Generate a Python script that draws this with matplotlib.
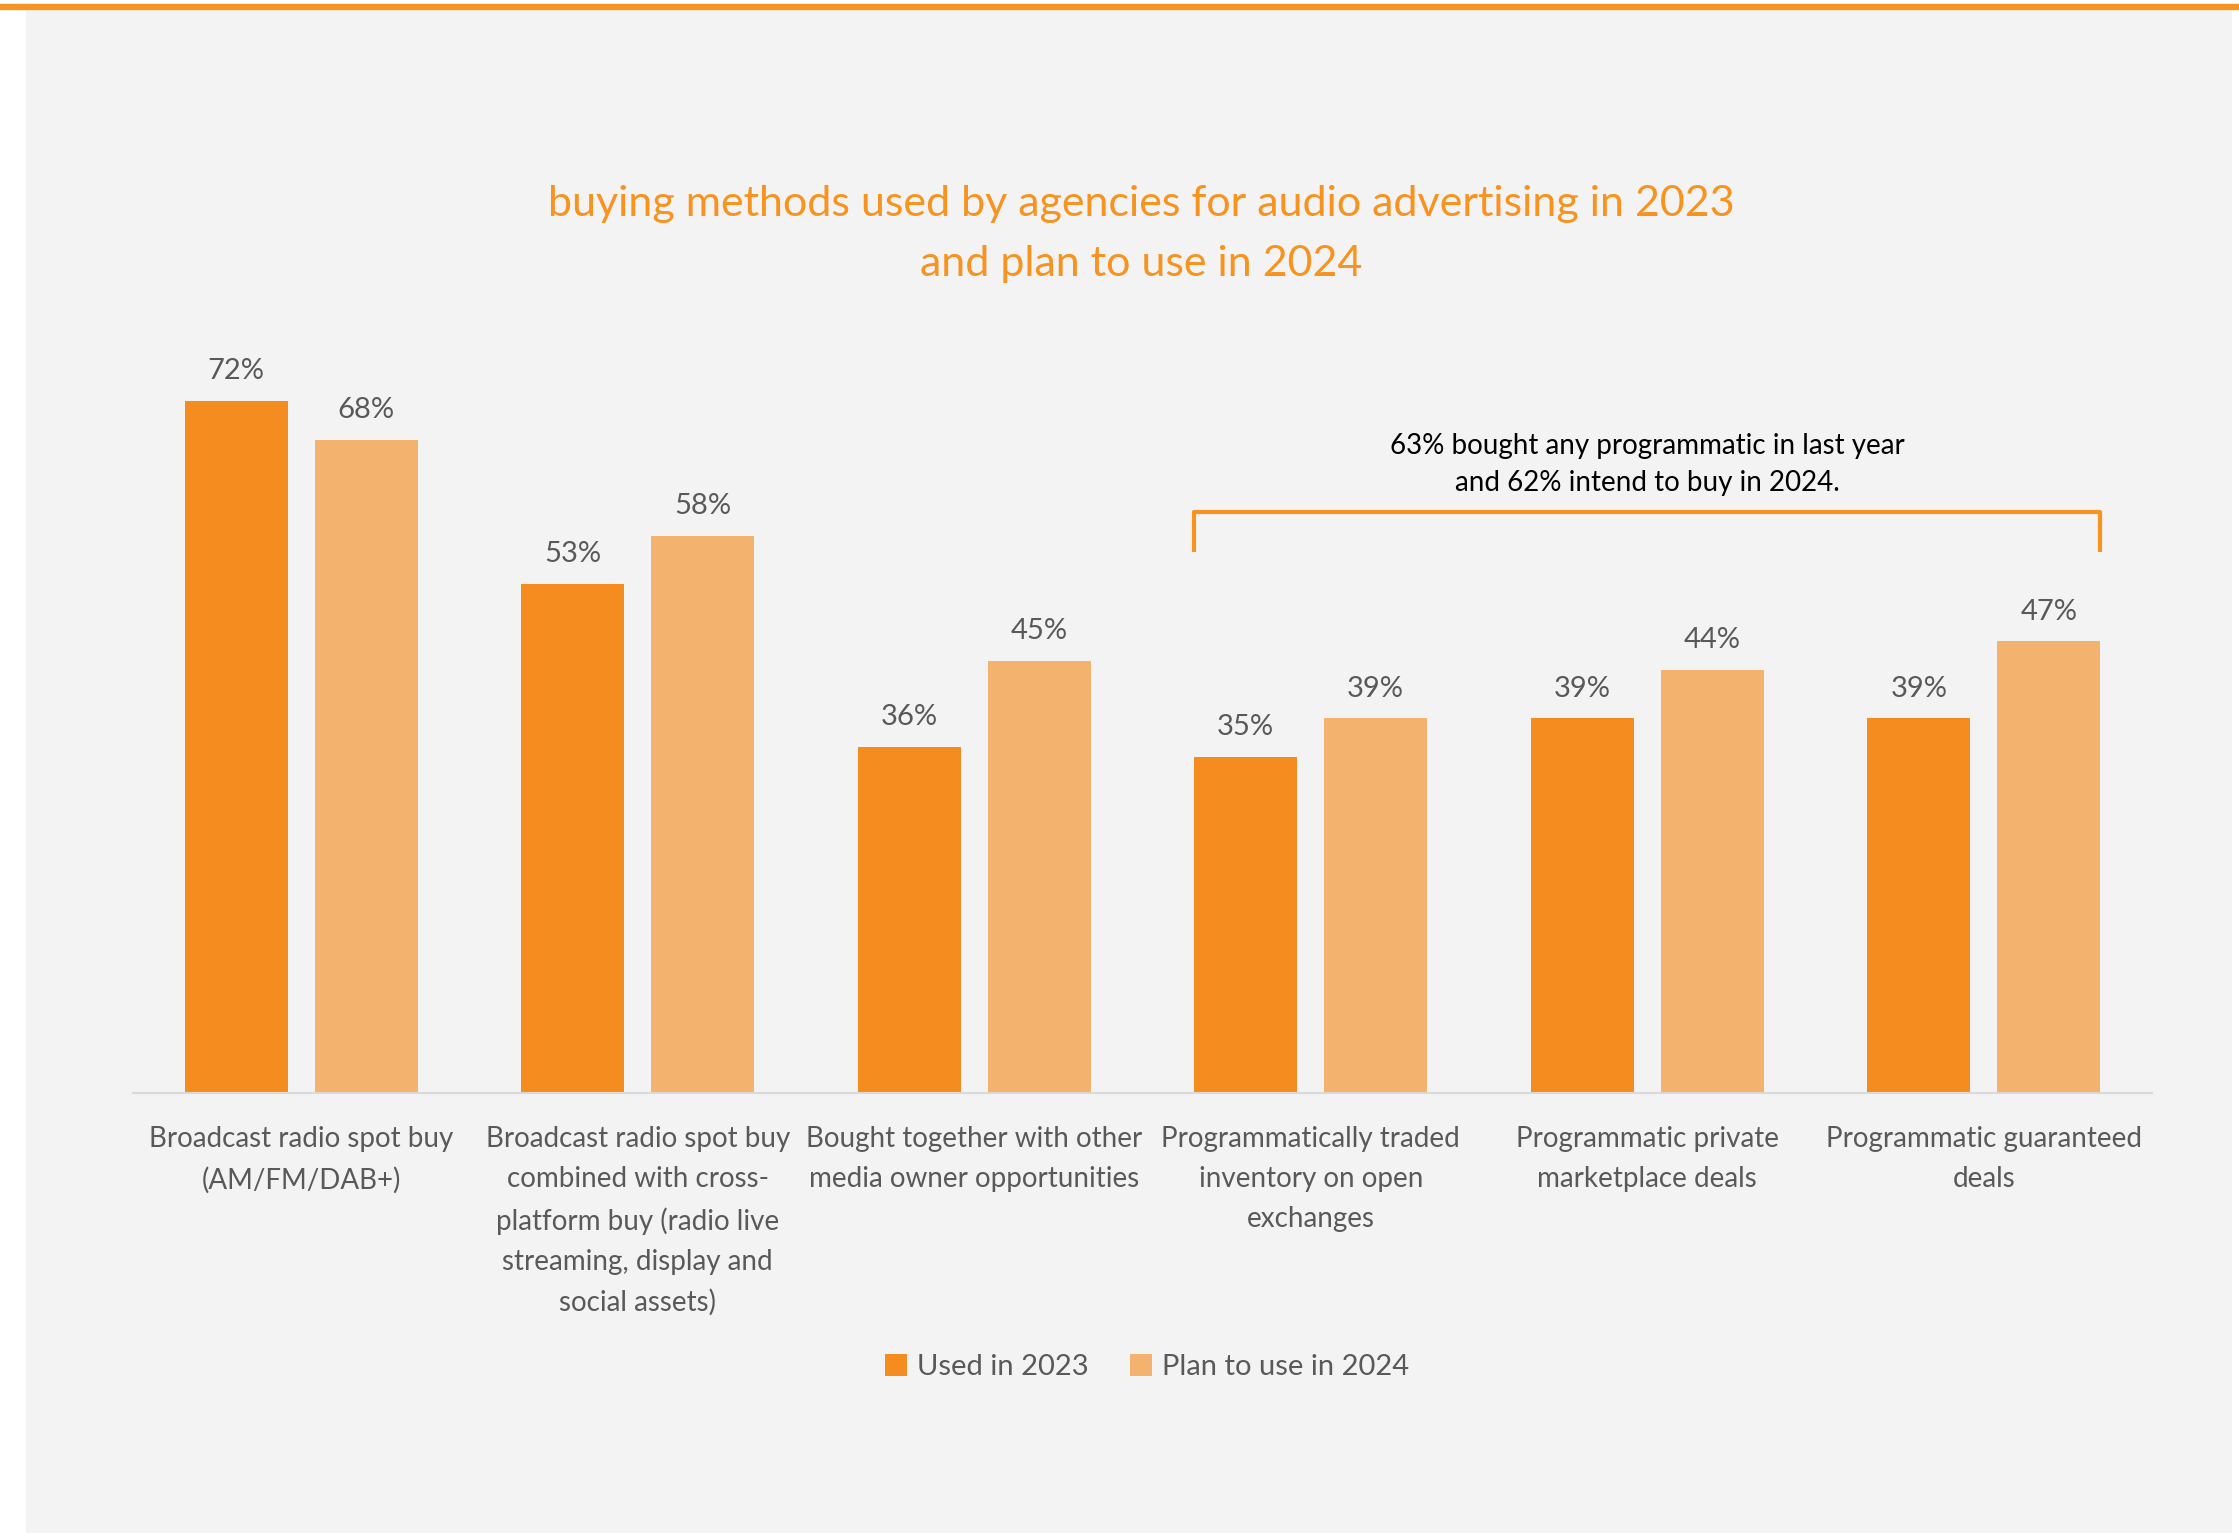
import matplotlib.pyplot as plt
import numpy as np
from matplotlib.patches import Rectangle
from matplotlib.lines import Line2D

plt.rcParams['font.family'] = ['Lato', 'DejaVu Sans']

# Data
categories = [
    'Broadcast radio spot buy\n(AM/FM/DAB+)',
    'Broadcast radio spot buy\ncombined with cross-\nplatform buy (radio live\nstreaming, display and\nsocial assets)',
    'Bought together with other\nmedia owner opportunities',
    'Programmatically traded\ninventory on open\nexchanges',
    'Programmatic private\nmarketplace deals',
    'Programmatic guaranteed\ndeals',
]
used_2023 = [72, 53, 36, 35, 39, 39]
plan_2024 = [68, 58, 45, 39, 44, 47]
series_names = ['Used in 2023', 'Plan to use in 2024']

dark_orange = '#F58C1F'
light_orange = '#F4B26F'
grey_text = '#595959'
panel_bg = '#F3F3F3'

fig = plt.figure(figsize=(22.39, 15.35), dpi=100, facecolor='white')

# grey card and orange rule along the top
fig.patches.append(Rectangle((26 / 2239, 0.0013), (2232 - 26) / 2239, 1 - 10 / 1535 - 0.0013,
                             transform=fig.transFigure, facecolor=panel_bg, edgecolor='none', zorder=-5))
fig.lines.append(Line2D([0, 1], [1 - 7 / 1535, 1 - 7 / 1535], transform=fig.transFigure,
                        color='#F7931E', linewidth=4.5, zorder=-4))

ax = fig.add_axes([133 / 2239, 1 - 1093 / 1535, (2152 - 133) / 2239, 961 / 1535])
ax.set_facecolor('none')

x = np.arange(len(categories))
bar_w = 0.305
offset = 0.193
b1 = ax.bar(x - offset, used_2023, bar_w, color=dark_orange, label=series_names[0], zorder=2)
b2 = ax.bar(x + offset, plan_2024, bar_w, color=light_orange, label=series_names[1], zorder=2)

for bars, vals in [(b1, used_2023), (b2, plan_2024)]:
    for r, v in zip(bars, vals):
        ax.annotate(f'{v}%', (r.get_x() + r.get_width() / 2, v), xytext=(0, 12),
                    textcoords='offset points', ha='center', va='bottom',
                    fontsize=21, color=grey_text)

ax.set_xlim(-0.5, len(categories) - 0.5)
ax.set_ylim(0, 100)
ax.set_yticks([])
for s in ['top', 'right', 'left']:
    ax.spines[s].set_visible(False)
ax.spines['bottom'].set_color('#D9D9D9')
ax.spines['bottom'].set_linewidth(1.5)
ax.set_xticks(x)
ax.set_xticklabels(categories, fontsize=20, color=grey_text, linespacing=1.66, va='top')
ax.tick_params(axis='x', length=0, pad=24)

# bracket over the programmatic groups
left = x[3] - offset - bar_w / 2
right = x[5] + offset + bar_w / 2
ax.plot([left, left, right, right], [56.3, 60.5, 60.5, 56.3], color='#F7931E', linewidth=3,
        solid_joinstyle='round', solid_capstyle='butt', zorder=3)
ax.text((left + right) / 2, 65.4, '63% bought any programmatic in last year\nand 62% intend to buy in 2024.',
        ha='center', va='center', fontsize=20, color='black', linespacing=1.56)

fig.text(1141 / 2239, 1 - 234 / 1535,
         'buying methods used by agencies for audio advertising in 2023\nand plan to use in 2024',
         ha='center', va='center', fontsize=31, color='#F7931E', linespacing=1.71)

fig.legend(handles=[b1, b2], labels=series_names, loc='center',
           bbox_to_anchor=(1147 / 2239, 1 - 1367 / 1535), ncol=2, frameon=False,
           fontsize=21, labelcolor=grey_text, handlelength=0.75, handleheight=0.75,
           handletextpad=0.35, columnspacing=1.4)

fig.savefig('out.png', dpi=100, facecolor='white')
